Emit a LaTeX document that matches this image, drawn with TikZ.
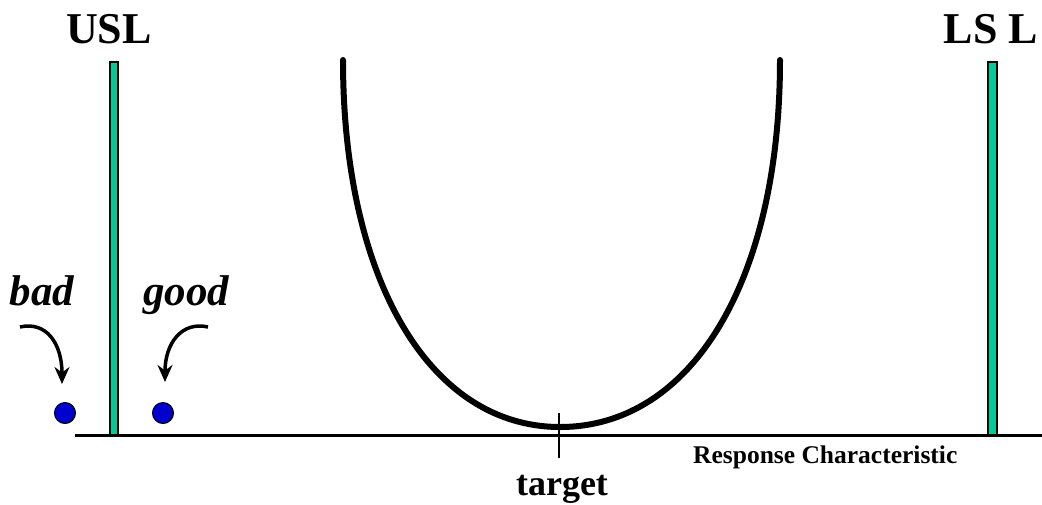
\documentclass[tikz,border=0pt]{standalone}
\usepackage{fontspec}
\setmainfont{Liberation Serif}
\usetikzlibrary{arrows.meta}
\definecolor{specgreen}{RGB}{0,204,153}
\definecolor{dotblue}{RGB}{0,0,204}
\begin{document}
\begin{tikzpicture}[x=1pt,y=-1pt,
  bigtxt/.style={font=\fontsize{44}{50}\selectfont\bfseries, anchor=base, inner sep=0pt},
  labtxt/.style={font=\fontsize{43}{48}\selectfont\bfseries\itshape, anchor=base, inner sep=0pt},
  limitbar/.style={fill=specgreen, draw=black, line width=1.2pt},
  part/.style={circle, fill=dotblue, draw=black, line width=1pt, minimum size=21pt, inner sep=0pt},
  pointer/.style={line width=3.5pt, -{Stealth[length=17pt,width=15pt]}},
]
\useasboundingbox (0,0) rectangle (1042,504);
% axis
\coordinate (axL) at (75,435);
\coordinate (axR) at (1042,435);
\draw[line width=3pt] (axL) -- (axR);
% limit bars
\draw[limitbar] (110,62) rectangle (118,435);
\draw[limitbar] (988,62) rectangle (997,435);
% labels
\node[bigtxt] (usl) at (109,43) {USL};
\node[bigtxt] (lsl) at (991,43) {LS L};
% loss curve
\coordinate (cL) at (343,60);
\coordinate (cV) at (560,427);
\coordinate (cR) at (780,60);
\draw[line width=6pt, line cap=round]
  (cL) .. controls (343,280) and (430,427) .. (cV)
       .. controls (692,427) and (780,280) .. (cR);
% target tick
\coordinate (tickT) at (559,413);
\coordinate (tickB) at (559,458);
\draw[line width=2pt] (tickT) -- (tickB);
\node[font=\fontsize{36}{40}\selectfont\bfseries, anchor=base, inner sep=0pt] (target) at (562,495) {target};
\node[font=\fontsize{25.5}{28}\selectfont\bfseries, anchor=base west, inner sep=0pt] (resp) at (693,463) {Response Characteristic};
% parts
\node[part] (bad) at (65,413) {};
\node[part] (good) at (163,413) {};
\node[labtxt] (badlab) at (42,305) {bad};
\node[labtxt] (goodlab) at (186,305) {good};
\coordinate (badS) at (20,327);
\coordinate (badE) at (62,384);
\coordinate (goodS) at (208,327);
\coordinate (goodE) at (165,382);
\draw[pointer] (badS) .. controls (46,321) and (62,343) .. (badE);
\draw[pointer] (goodS) .. controls (182,321) and (165,343) .. (goodE);
\end{tikzpicture}
\end{document}
